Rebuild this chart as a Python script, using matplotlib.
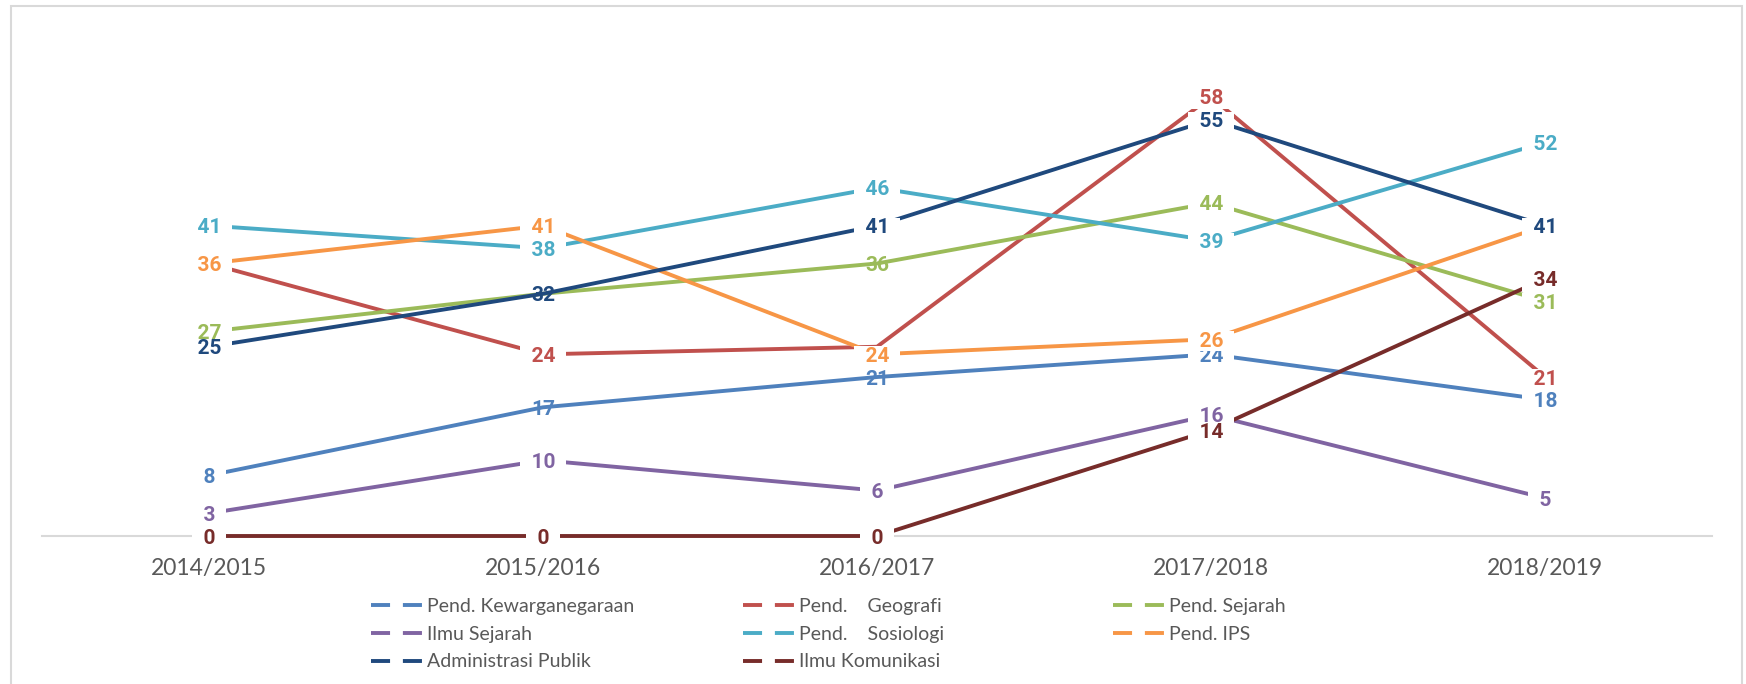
import matplotlib as mpl
import matplotlib.pyplot as plt
from matplotlib.lines import Line2D
from matplotlib.patches import Rectangle

mpl.rcParams["font.family"] = ["Lato", "DejaVu Sans"]

# ===================== Data =====================
years = ["2014/2015", "2015/2016", "2016/2017", "2017/2018", "2018/2019"]

kewarganegaraan = [8, 17, 21, 24, 18]
geografi = [36, 24, 25, 58, 21]
sejarah = [27, 32, 36, 44, 31]
ilmu_sejarah = [3, 10, 6, 16, 5]
sosiologi = [41, 38, 46, 39, 52]
ips = [36, 41, 24, 26, 41]
adm_publik = [25, 32, 41, 55, 41]
komunikasi = [0, 0, 0, 14, 34]

names = ["Pend. Kewarganegaraan", "Pend.    Geografi", "Pend. Sejarah",
         "Ilmu Sejarah", "Pend.    Sosiologi", "Pend. IPS",
         "Administrasi Publik", "Ilmu Komunikasi"]
series = [kewarganegaraan, geografi, sejarah, ilmu_sejarah,
          sosiologi, ips, adm_publik, komunikasi]
colors = ["#4F81BD", "#C0504D", "#9BBB59", "#8064A2",
          "#4BACC6", "#F79646", "#1F497D", "#772C2A"]

# labels drawn without white box (series index, year index)
no_fill = {(0, 1), (0, 2), (2, 2), (6, 1)}
# labels sitting behind another label in the original
hidden = {(2, 1), (1, 2), (5, 4)}

# ===================== Figure =====================
W, H = 1746, 684
fig = plt.figure(figsize=(W / 100, H / 100), dpi=100)
ax = fig.add_axes([42 / W, (H - 536) / H, (1712 - 42) / W, (536 - 81.8) / H])

x = list(range(len(years)))
for vals, c in zip(series, colors):
    ax.plot(x, vals, color=c, lw=2.8, solid_capstyle="butt",
            clip_on=False, zorder=2)

for i, (vals, c) in enumerate(zip(series, colors)):
    for j, v in enumerate(vals):
        if (i, j) in hidden:
            continue
        if (i, j) in no_fill:
            ax.text(j, v, str(v), color=c, fontsize=15, fontweight="bold",
                    family=["Roboto", "DejaVu Sans"], ha="center",
                    va="center_baseline", zorder=10 + i, clip_on=False)
        else:
            # spaces give the wide side margins of the white label box
            ax.text(j, v, "  " + str(v) + "  ", color=c, fontsize=15,
                    fontweight="bold", family=["Roboto", "DejaVu Sans"],
                    ha="center", va="center_baseline", zorder=10 + i,
                    clip_on=False,
                    bbox=dict(boxstyle="square,pad=0.02", facecolor="white",
                              edgecolor="none"))

ax.set_xlim(-0.5, len(years) - 0.5)
ax.set_ylim(0, 60)
ax.set_xticks(x)
ax.set_xticklabels(years, fontsize=16.5, color="#595959")
ax.tick_params(axis="x", length=0, pad=16)
ax.set_yticks([])
for s in ["top", "left", "right"]:
    ax.spines[s].set_visible(False)
ax.spines["bottom"].set_color("#D9D9D9")
ax.spines["bottom"].set_linewidth(1.5)
ax.spines["bottom"].set_zorder(1)

# outer frame
fig.patches.append(Rectangle((11 / W, -0.02), (1742 - 11) / W, 1.02 - 6 / H,
                             transform=fig.transFigure, fill=False,
                             edgecolor="#D9D9D9", lw=1.5))

# ===================== Legend (three columns) =====================
columns = [[0, 3, 6], [1, 4, 7], [2, 5]]
col_x = [371, 743, 1113]
for cols, cx in zip(columns, col_x):
    handles = [Line2D([], [], color=colors[k], lw=2.8,
                      linestyle=(0, (4.9, 3.3))) for k in cols]
    fig.legend(handles, [names[k] for k in cols], loc="upper left",
               bbox_to_anchor=(cx / W, 1 - 598 / H), frameon=False,
               fontsize=14, labelcolor="#595959", handlelength=2.6,
               handletextpad=0.3, labelspacing=0.55, borderpad=0,
               borderaxespad=0)

fig.savefig("out.png", dpi=100)
